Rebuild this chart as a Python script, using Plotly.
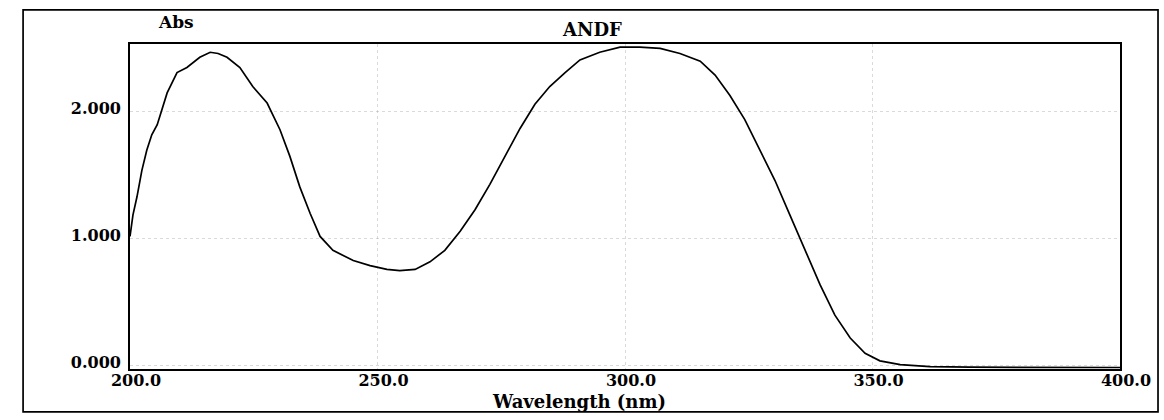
import plotly.graph_objects as go

# Spectrum (wavelength nm, absorbance)
wavelength = [200.0, 200.6, 201.4, 202.4, 203.4, 204.4, 205.5, 207.5, 209.5, 211.5, 214.1, 216.2,
              217.8, 219.6, 222.2, 224.8, 227.7, 230.3, 232.3, 234.3, 236.4, 238.4, 241.0, 243.4,
              245.1, 248.5, 251.9, 254.5, 257.6, 260.6, 263.6, 266.7, 269.7, 272.7, 275.8, 278.8,
              281.8, 284.8, 287.9, 290.9, 294.9, 299.0, 303.0, 307.1, 311.1, 315.2, 318.2, 321.2,
              324.2, 327.3, 330.3, 333.3, 336.4, 339.4, 342.4, 345.5, 348.5, 351.5, 355.6, 361.6,
              369.7, 385.9, 400.0]
absorbance = [1.02, 1.19, 1.33, 1.54, 1.70, 1.82, 1.90, 2.15, 2.31, 2.35, 2.43, 2.47,
              2.46, 2.43, 2.35, 2.20, 2.07, 1.86, 1.65, 1.41, 1.20, 1.02, 0.91, 0.86,
              0.83, 0.79, 0.76, 0.75, 0.76, 0.82, 0.91, 1.06, 1.23, 1.43, 1.66, 1.87,
              2.06, 2.20, 2.31, 2.41, 2.47, 2.51, 2.51, 2.50, 2.46, 2.40, 2.29, 2.13,
              1.94, 1.70, 1.46, 1.19, 0.91, 0.64, 0.40, 0.22, 0.10, 0.04, 0.01, -0.005,
              -0.01, -0.012, -0.012]

x_ticks = [200, 250, 300, 350, 400]
x_tick_text = ["200.0", "250.0", "300.0", "350.0", "400.0"]
y_ticks = [0, 1, 2]
y_tick_text = ["0.000", "1.000", "2.000"]

FONT = "DejaVu Serif"

fig = go.Figure()
fig.add_trace(go.Scatter(x=wavelength, y=absorbance, mode="lines",
                         line=dict(color="black", width=1.7), showlegend=False))

fig.update_layout(
    width=1164, height=420,
    margin=dict(l=130, r=44, t=44, b=51),
    paper_bgcolor="white", plot_bgcolor="white",
    font=dict(family=FONT, color="black", size=16),
    xaxis=dict(range=[200, 400], tickvals=x_ticks, ticktext=x_tick_text,
               showline=True, mirror=True, linecolor="black", linewidth=1.7,
               showgrid=True, gridcolor="rgba(150,150,150,0.35)", griddash="dot", gridwidth=1,
               zeroline=False, ticks="", ticklabelstandoff=-4, ticklabelshift=6,
               tickfont=dict(family=FONT, size=16, color="black", weight="bold")),
    yaxis=dict(range=[-0.024, 2.535], tickvals=y_ticks, ticktext=y_tick_text,
               showline=True, mirror=True, linecolor="black", linewidth=1.7,
               showgrid=True, gridcolor="rgba(150,150,150,0.35)", griddash="dot", gridwidth=1,
               zeroline=False, ticks="", ticklabelshift=-4, ticklabelstandoff=4,
               tickfont=dict(family=FONT, size=16, color="black", weight="bold")),
    shapes=[dict(type="rect", xref="paper", yref="paper",
                 x0=-0.108, x1=1.0384, y0=-0.132, y1=1.105,
                 line=dict(color="black", width=1.7), fillcolor="rgba(0,0,0,0)", layer="below")],
    annotations=[
        dict(text="<b>ANDF</b>", xref="paper", yref="paper", x=0.467, y=1.046,
             showarrow=False, font=dict(family=FONT, size=18, color="black"),
             xanchor="center", yanchor="middle"),
        dict(text="<b>Abs</b>", xref="paper", yref="paper", x=0.046, y=1.068,
             showarrow=False, font=dict(family=FONT, size=17, color="black"),
             xanchor="center", yanchor="middle"),
        dict(text="<b>Wavelength (nm)</b>", xref="paper", yref="paper", x=0.4535, y=-0.1015,
             showarrow=False, font=dict(family=FONT, size=18, color="black"),
             xanchor="center", yanchor="middle"),
    ],
)

fig.write_html("out.html")
